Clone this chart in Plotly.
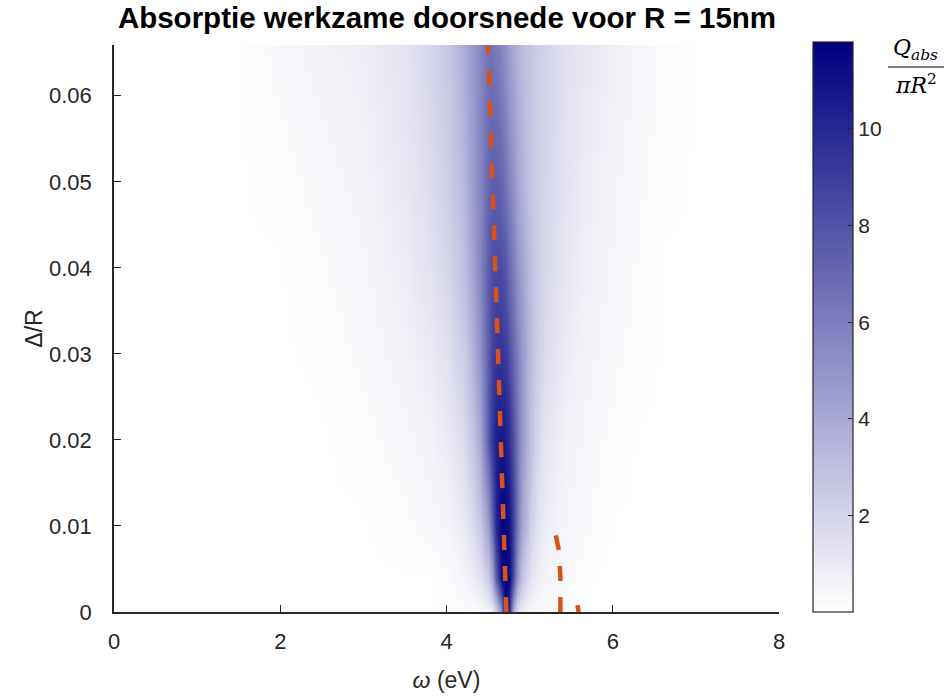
import plotly.graph_objects as go

# photon energy columns (eV)
omega = [0.0, 1.5, 2.0, 2.5, 3.0, 3.5, 3.8, 4.0, 4.2, 4.3, 4.4, 4.5, 4.55, 4.6, 4.65,
         4.7, 4.75, 4.8, 4.85, 4.9, 5.0, 5.1, 5.2, 5.4, 5.6, 5.8, 6.0, 6.3, 6.6, 7.0, 8.0]
# Delta/R rows
delta = [0.0, 0.004, 0.01, 0.02, 0.03, 0.04, 0.05, 0.066]

# Q_abs / (pi R^2), one list per Delta/R row
q_d000 = [0, 0, 0, 0, 0, 0, 0, 0, 0.15, 0.2, 0.3, 0.5, 0.9, 2.0, 5.0,
          11.6, 10.0, 4.0, 1.6, 0.9, 0.45, 0.3, 0.2, 0.1, 0, 0, 0, 0, 0, 0, 0]
q_d004 = [0, 0, 0, 0, 0, 0, 0, 0.2, 0.5, 0.8, 1.3, 2.4, 4.0, 7.5, 11.0,
          11.8, 11.5, 8.5, 5.0, 3.0, 1.4, 0.8, 0.55, 0.35, 0.15, 0, 0, 0, 0, 0, 0]
q_d010 = [0, 0, 0, 0, 0, 0.15, 0.35, 0.55, 1.0, 1.5, 2.5, 4.5, 7.0, 10.0, 11.5,
          11.6, 11.0, 9.0, 6.5, 4.5, 2.3, 1.3, 0.85, 0.5, 0.35, 0.15, 0, 0, 0, 0, 0]
q_d020 = [0, 0, 0, 0, 0.1, 0.4, 0.65, 0.95, 1.6, 2.5, 4.0, 7.5, 9.3, 10.5, 10.8,
          10.5, 9.7, 8.2, 6.5, 5.0, 3.0, 1.8, 1.2, 0.7, 0.5, 0.3, 0.15, 0, 0, 0, 0]
q_d030 = [0, 0, 0, 0.05, 0.3, 0.65, 1.0, 1.4, 2.3, 3.3, 5.0, 7.5, 8.7, 9.3, 9.4,
          9.1, 8.3, 7.2, 6.0, 4.9, 3.3, 2.2, 1.6, 1.0, 0.7, 0.5, 0.3, 0.12, 0, 0, 0]
q_d040 = [0, 0, 0, 0.2, 0.45, 0.9, 1.35, 1.9, 2.9, 4.0, 5.5, 7.6, 8.2, 8.4, 8.3,
          7.8, 7.0, 6.1, 5.2, 4.4, 3.1, 2.3, 1.8, 1.2, 0.85, 0.65, 0.45, 0.2, 0, 0, 0]
q_d050 = [0, 0, 0.1, 0.35, 0.6, 1.1, 1.6, 2.2, 3.3, 4.3, 5.6, 7.0, 7.4, 7.4, 7.1,
          6.5, 5.8, 5.0, 4.3, 3.7, 2.8, 2.2, 1.9, 1.35, 1.0, 0.75, 0.55, 0.3, 0.08, 0, 0]
q_d066 = [0, 0, 0.35, 0.65, 0.85, 1.3, 1.9, 2.6, 3.7, 4.6, 5.6, 6.4, 6.4, 6.1, 5.7,
          5.1, 4.5, 4.0, 3.6, 3.2, 2.6, 2.3, 2.0, 1.5, 1.2, 1.0, 0.8, 0.45, 0.2, 0, 0]

# resonance positions (dashed curves), gaps separated by None
res_omega = [4.72, 4.70, 4.68, 4.65, 4.62, 4.59, 4.555, 4.525, 4.50, None,
             5.37, 5.37, 5.355, 5.33, 5.305, None, 5.59, 5.575]
res_delta = [0.0, 0.006, 0.012, 0.02, 0.031, 0.04, 0.05, 0.06, 0.0658, None,
             0.0, 0.004, 0.007, 0.0085, 0.0094, None, 0.0, 0.0008]

cb_ticks = [2, 4, 6, 8, 10]
x_ticks = [0, 2, 4, 6, 8]
y_ticks = [0, 0.01, 0.02, 0.03, 0.04, 0.05, 0.06]
y_ticktext = ['0', '0.01', '0.02', '0.03', '0.04', '0.05', '0.06']

Z = [q_d000, q_d004, q_d010, q_d020, q_d030, q_d040, q_d050, q_d066]

W, H = 947, 700
L, R, T, B = 114, 779, 45, 612
def px(x): return (x - L) / (R - L)
def py(y): return (B - y) / (B - T)

axis_col = '#262626'
font = 'Liberation Sans, Arial, Helvetica, sans-serif'

fig = go.Figure()
fig.add_trace(go.Heatmap(
    x=omega, y=delta, z=Z, zsmooth='best', zmin=0, zmax=11.8,
    colorscale=[[0, '#ffffff'], [1, '#00007f']],
    colorbar=dict(
        x=px(813), xanchor='left', y=py(612), yanchor='bottom',
        len=(612 - 42) / (B - T), lenmode='fraction', thickness=40, thicknessmode='pixels',
        outlinewidth=1.2, outlinecolor=axis_col, ticks='inside', ticklen=5,
        tickcolor=axis_col, tickvals=cb_ticks, tickprefix='\u2002',
        tickfont=dict(family=font, size=21, color=axis_col), xpad=0, ypad=0),
    hoverinfo='skip'))
fig.add_trace(go.Scatter(
    x=res_omega, y=res_delta, mode='lines', connectgaps=False,
    line=dict(color='#d95319', width=4.5, dash='15px,16px'), showlegend=False,
    hoverinfo='skip'))

fig.update_layout(
    width=W, height=H, margin=dict(l=L, r=W - R, t=T, b=H - B, autoexpand=False),
    paper_bgcolor='white', plot_bgcolor='white', showlegend=False,
    title=dict(text='<b>Absorptie werkzame doorsnede voor R = 15nm</b>', xref='paper', x=px(447),
               xanchor='center', yref='container', y=1 - 18 / H, yanchor='middle',
               font=dict(family=font, size=29.5, color='#000000')),
    xaxis=dict(range=[0, 8], tickvals=x_ticks, ticks='inside', ticklen=7, tickcolor=axis_col,
               showline=True, linecolor=axis_col, linewidth=1.5, showgrid=False, zeroline=False,
               ticklabelstandoff=9, automargin=False,
               tickfont=dict(family=font, size=22, color=axis_col), mirror=False,
               title=dict(text='<i>ω</i> (eV)', font=dict(family=font, size=23, color=axis_col), standoff=19)),
    yaxis=dict(range=[0, 0.0659], tickvals=y_ticks, ticktext=y_ticktext,
               ticks='inside', ticklen=7, tickcolor=axis_col,
               showline=True, linecolor=axis_col, linewidth=1.5, showgrid=False, zeroline=False,
               ticklabelstandoff=16, automargin=False,
               tickfont=dict(family=font, size=22, color=axis_col),
               title=dict(text='Δ/R', font=dict(family=font, size=23, color=axis_col), standoff=0)),
)

# colorbar label: Q_abs / (pi R^2)
fig.add_annotation(x=px(916), y=py(49), xref='paper', yref='paper', showarrow=False,
                   xanchor='center', yanchor='middle',
                   text='<i>Q</i><sub><i>abs</i></sub>', font=dict(family='DejaVu Serif, serif', size=22, color='#000'))
fig.add_annotation(x=px(916), y=py(84), xref='paper', yref='paper', showarrow=False,
                   xanchor='center', yanchor='middle',
                   text='<i>πR</i><sup>2</sup>', font=dict(family='DejaVu Serif, serif', size=22, color='#000'))
fig.add_shape(type='line', xref='paper', yref='paper', x0=px(888), x1=px(944), y0=py(67), y1=py(67),
              line=dict(color='#000', width=1.2))

fig.write_html('out.html')
